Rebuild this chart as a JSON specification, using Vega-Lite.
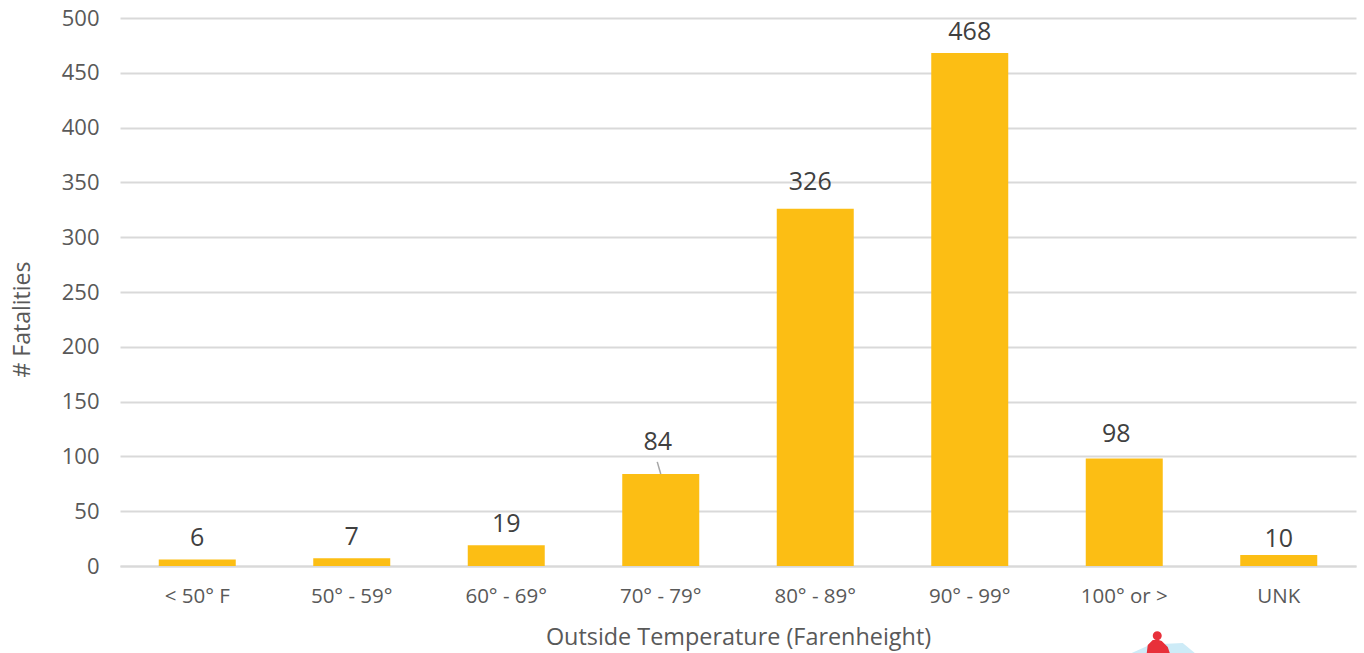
{"$schema":"https://vega.github.io/schema/vega-lite/v6.json","width":1236,"height":548,"padding":{"left":120,"top":18,"right":8,"bottom":87},"autosize":{"type":"none"},"background":"white","data":{"values":[{"t":"< 50° F","n":6,"g":"a"},{"t":"50° - 59°","n":7,"g":"a"},{"t":"60° - 69°","n":19,"g":"a"},{"t":"70° - 79°","n":84,"g":"c"},{"t":"80° - 89°","n":326,"g":"b"},{"t":"90° - 99°","n":468,"g":"a"},{"t":"100° or >","n":98,"g":"d"},{"t":"UNK","n":10,"g":"e"}]},"config":{"view":{"stroke":null},"font":"Open Sans"},"encoding":{"x":{"field":"t","type":"nominal","sort":null,"scale":{"paddingInner":0.5,"paddingOuter":0.25}},"y":{"field":"n","type":"quantitative","scale":{"domain":[0,500]}}},"layer":[{"mark":{"type":"bar","color":"#FCBE14","width":77},"encoding":{"x":{"field":"t","type":"nominal","sort":null,"scale":{"paddingInner":0.5,"paddingOuter":0.25},"axis":{"title":"Outside Temperature (Farenheight)","titleFontSize":23.4,"titleColor":"#595959","titleFontWeight":"normal","titleFont":"Open Sans","titlePadding":20,"labelFontSize":20.5,"labelColor":"#595959","labelAngle":0,"labelPadding":20,"ticks":false,"domainColor":"#D9D9D9","domainWidth":2}},"y":{"field":"n","type":"quantitative","scale":{"domain":[0,500]},"axis":{"title":"# Fatalities","titleFontSize":23,"titleColor":"#595959","titleFontWeight":"normal","titleY":301,"titleX":-86,"labelFontSize":22,"labelColor":"#595959","labelPadding":21,"ticks":false,"domain":false,"gridColor":"#D9D9D9","gridWidth":2,"values":[0,50,100,150,200,250,300,350,400,450,500]}}}},{"transform":[{"filter":"datum.t === '70° - 79°'"}],"mark":{"type":"rule","color":"#A6A6A6","strokeWidth":1.5,"xOffset":0,"x2Offset":-3.5},"encoding":{"x2":{"field":"t"},"y2":{"datum":95}}},{"transform":[{"filter":"datum.g === 'a'"}],"mark":{"type":"text","fontSize":25,"color":"#404040","baseline":"middle","dy":-21},"encoding":{"text":{"field":"n","type":"quantitative"}}},{"transform":[{"filter":"datum.g === 'b'"}],"mark":{"type":"text","fontSize":25,"color":"#404040","baseline":"middle","dy":-27,"dx":-5},"encoding":{"text":{"field":"n","type":"quantitative"}}},{"transform":[{"filter":"datum.g === 'c'"}],"mark":{"type":"text","fontSize":25,"color":"#404040","baseline":"middle","dy":-32,"dx":-3},"encoding":{"text":{"field":"n","type":"quantitative"}}},{"transform":[{"filter":"datum.g === 'd'"}],"mark":{"type":"text","fontSize":25,"color":"#404040","baseline":"middle","dy":-25,"dx":-8},"encoding":{"text":{"field":"n","type":"quantitative"}}},{"transform":[{"filter":"datum.g === 'e'"}],"mark":{"type":"text","fontSize":25,"color":"#404040","baseline":"middle","dy":-16},"encoding":{"text":{"field":"n","type":"quantitative"}}},{"transform":[{"filter":"datum.g === 'd'"}],"mark":{"type":"point","filled":true,"opacity":1,"color":"#CDEBF7","size":4,"xOffset":35.5,"shape":"M-28 8 L-8 -1 L2 -1 L23 -2 L35 8 Z"},"encoding":{"y":{"datum":-72}}},{"transform":[{"filter":"datum.g === 'd'"}],"mark":{"type":"point","filled":true,"opacity":1,"color":"#E8303A","size":4,"xOffset":35.5,"shape":"M-13 8 L-12 0 L-7 -5 L-4 -5 A4.5 4.5 0 1 1 -1 -5 L2 -4 L8 2 L10 8 Z"},"encoding":{"y":{"datum":-72}}}]}
